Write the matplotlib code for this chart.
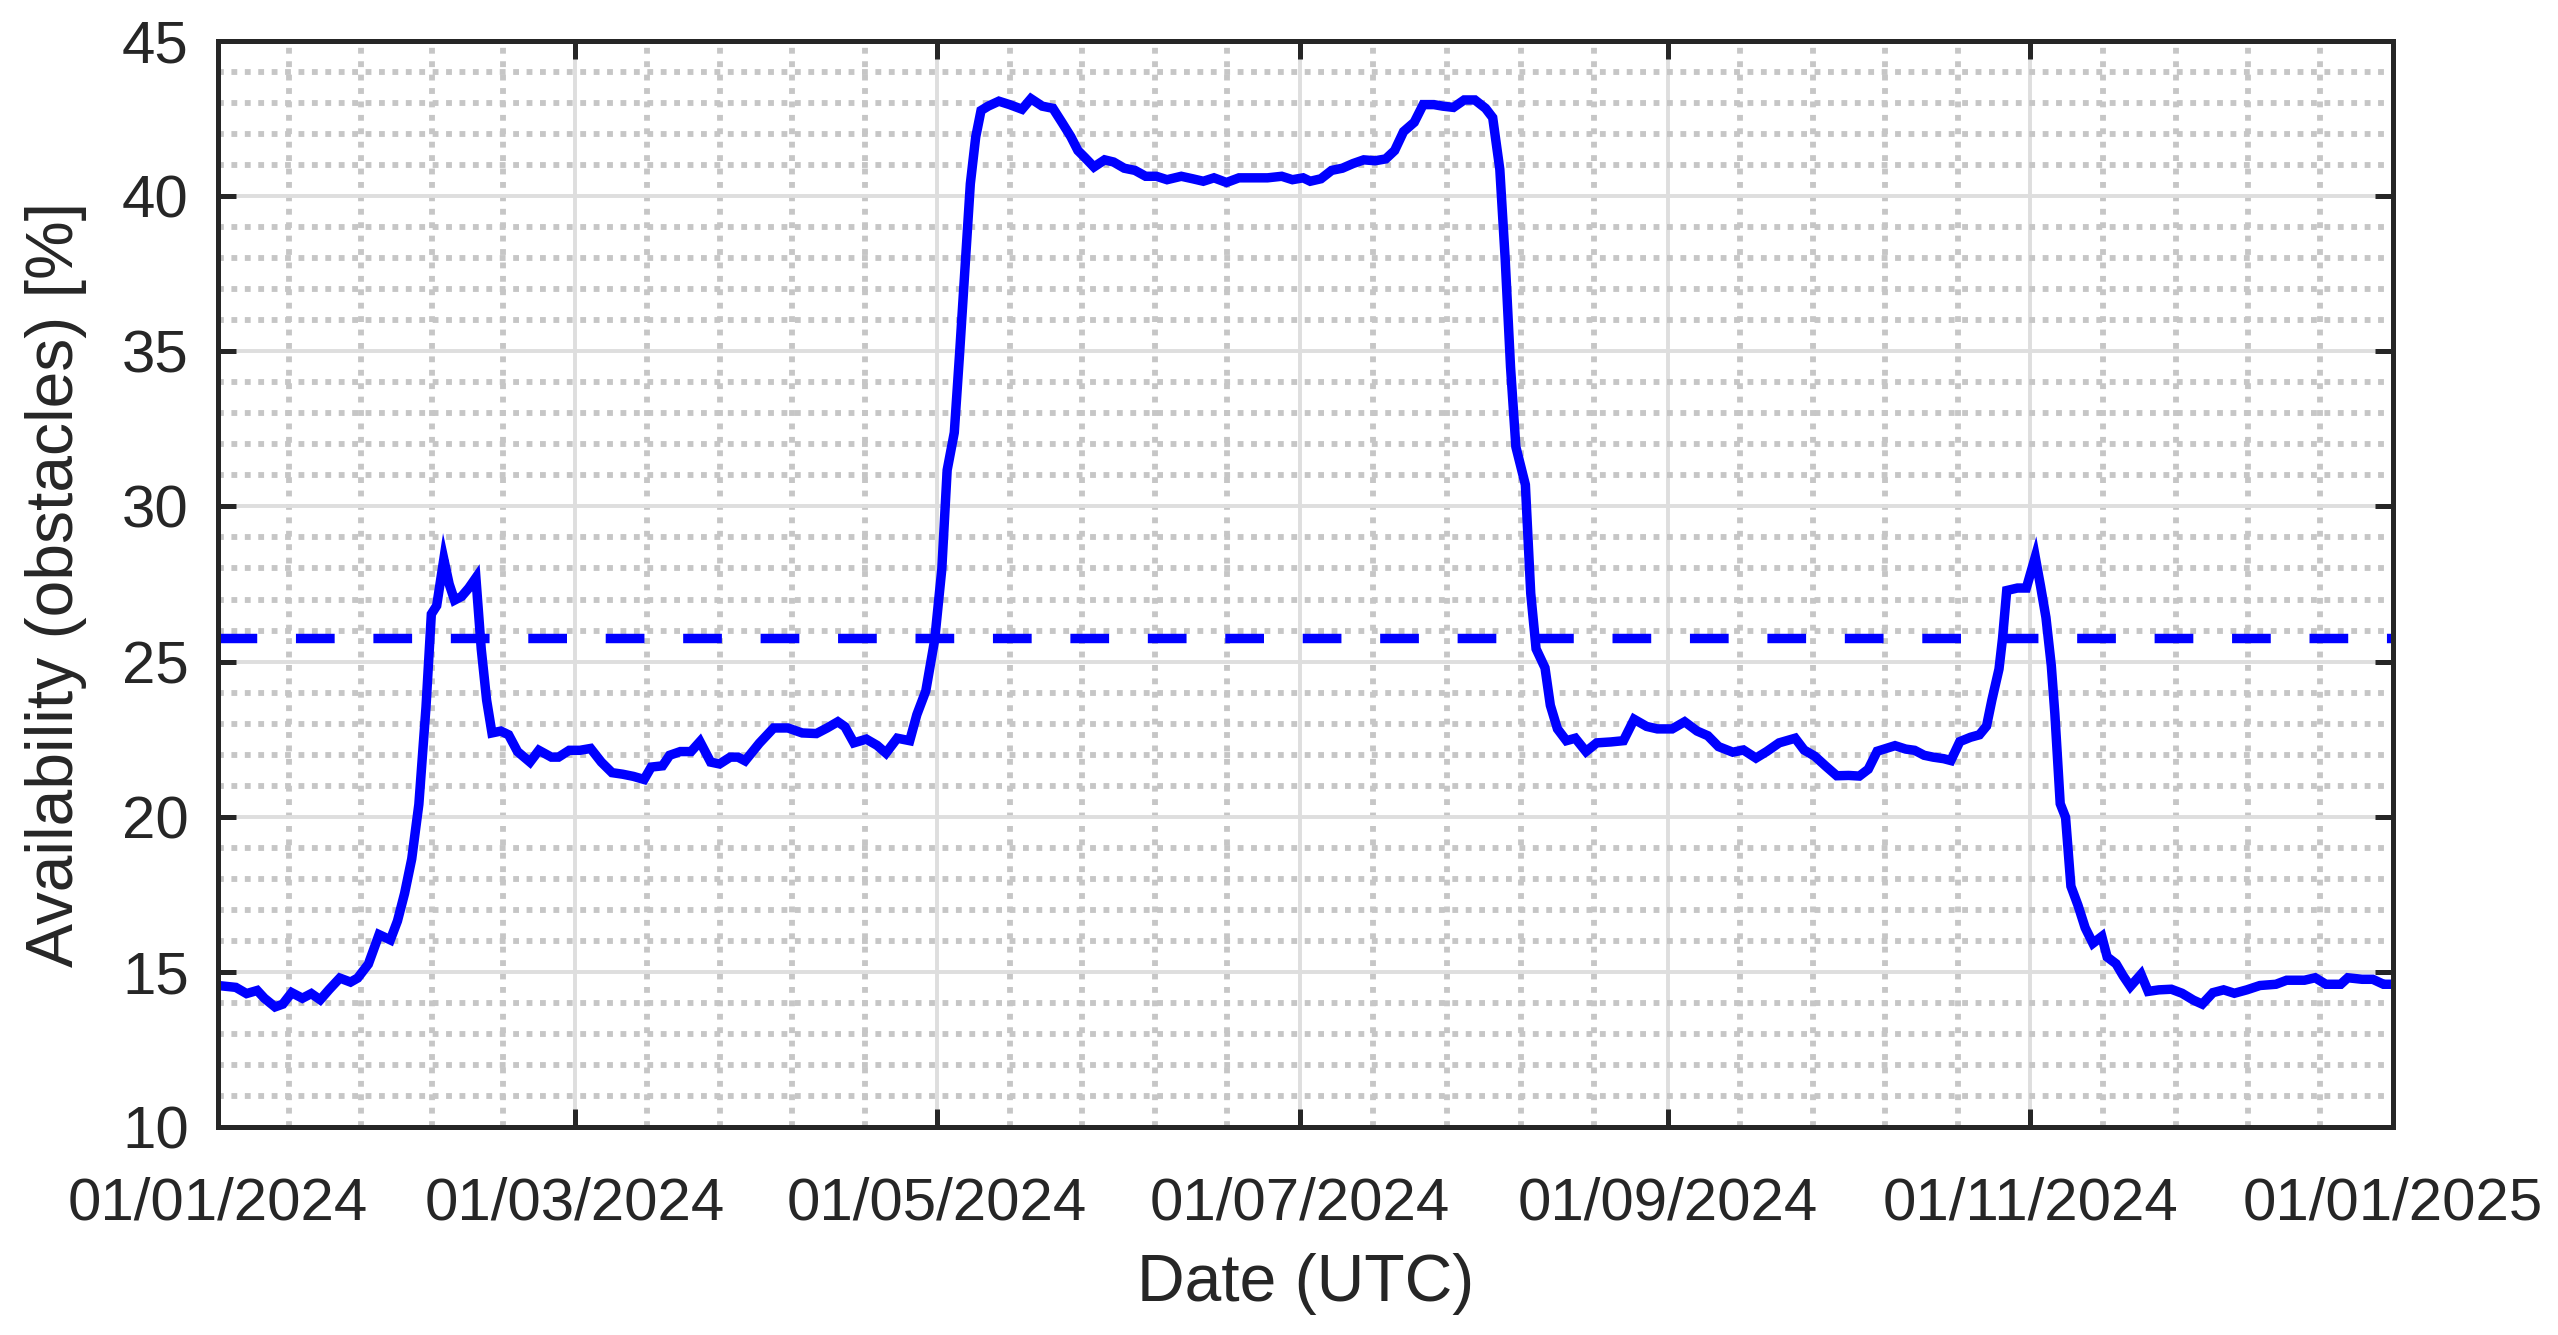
import numpy as np
import matplotlib
matplotlib.use("Agg")
import matplotlib.pyplot as plt
import matplotlib.dates as mdates
from matplotlib.ticker import FixedLocator, MultipleLocator

# ---------------- data ----------------
start_date = "2024-01-01"
day_offset = [
    0, 3, 4.8, 6.6, 7.8, 9.6, 10.9, 12.4, 14.2, 15.7, 17.2, 18.7, 20.5, 22.3, 23.5,
    25.3, 27.1, 29, 30.2, 31.4, 32.6, 33.8, 35, 35.9, 36.8, 38, 38.9, 39.8, 41, 42.2,
    43.4, 44.3, 45.2, 46.1, 47.6, 48.9, 50.4, 52.5, 54, 56.1, 57.3, 59.1, 60.9, 62.7,
    64.5, 66.3, 68.1, 69.9, 71.7, 72.9, 74.8, 76, 77.8, 79.6, 81.1, 82.9, 84.4, 86.2,
    87.5, 88.7, 91.1, 93.5, 95.9, 98.3, 100.7, 102.5, 104.3, 105.5, 107, 109.1, 110.9,
    112.4, 114.3, 116.4, 117.6, 119.1, 120.6, 121.8, 122.7, 123.9, 124.8, 125.7, 126.6,
    127.5, 128.4, 129.6, 131.4, 133.2, 135.3, 136.8, 138.7, 140.5, 142, 143.5, 144.7,
    145.9, 147.4, 149.2, 150.7, 152.5, 154.3, 156.1, 157.9, 159.7, 162.1, 164, 165.8,
    167.6, 169.7, 171.8, 174.2, 176.6, 179, 180.8, 182.6, 183.8, 185.6, 187.4, 189.2,
    191, 192.8, 194.7, 196.5, 198, 199.5, 201.3, 202.8, 204.6, 206.1, 207.9, 209.7,
    211.5, 213.3, 214.5, 215.7, 216.6, 217.5, 218.4, 220, 220.9, 221.8, 223.3, 224.2,
    225.4, 226.9, 228.4, 230.2, 232, 234.4, 236.5, 238.3, 240.4, 242.2, 244.7, 246.8,
    248.9, 250.7, 252.5, 254.9, 256.7, 258.8, 260.6, 262.7, 265.4, 266.9, 268.7, 270.6,
    272.4, 274.4, 276.2, 277.7, 279.2, 281, 282.2, 284, 285.5, 287.1, 288.6, 290.4,
    291.6, 293.1, 294.9, 296.4, 297.6, 298.5, 299.7, 300.3, 301, 302.8, 304.3, 305.8,
    306.7, 307.6, 308.5, 309.1, 310, 310.9, 311.8, 313, 314.2, 315.5, 317, 317.9, 319.4,
    320.6, 321.8, 323.6, 324.8, 326.6, 328.7, 330.5, 332.4, 333.9, 335.7, 337.5, 339.3,
    341.4, 343.6, 346.3, 348.1, 351.1, 352.9, 354.7, 357.2, 358.4, 360.8, 362.6, 364.4,
    365,
]
availability = [
    14.56, 14.5, 14.3, 14.4, 14.15, 13.87, 13.96, 14.33, 14.15, 14.3, 14.1, 14.43, 14.8,
    14.67, 14.8, 15.25, 16.2, 16.03, 16.64, 17.53, 18.64, 20.4, 23.53, 26.53, 26.8, 28.3,
    27.5, 26.98, 27.1, 27.37, 27.7, 25.4, 23.76, 22.7, 22.76, 22.64, 22.1, 21.76, 22.14,
    21.92, 21.92, 22.14, 22.14, 22.2, 21.76, 21.42, 21.37, 21.3, 21.2, 21.6, 21.64, 21.98,
    22.1, 22.1, 22.42, 21.76, 21.7, 21.92, 21.92, 21.8, 22.37, 22.86, 22.86, 22.7, 22.68,
    22.86, 23.06, 22.9, 22.38, 22.5, 22.3, 22.05, 22.53, 22.45, 23.29, 24.05, 25.7, 27.98,
    31.17, 32.38, 34.95, 37.68, 40.4, 41.9, 42.76, 42.9, 43.06, 42.95, 42.8, 43.14, 42.9,
    42.83, 42.38, 41.92, 41.47, 41.24, 40.94, 41.17, 41.1, 40.9, 40.83, 40.64, 40.64,
    40.53, 40.64, 40.56, 40.48, 40.59, 40.44, 40.59, 40.59, 40.59, 40.64, 40.53, 40.59,
    40.48, 40.56, 40.83, 40.9, 41.05, 41.17, 41.14, 41.2, 41.47, 42.08, 42.38, 42.95,
    42.95, 42.9, 42.86, 43.1, 43.1, 42.83, 42.53, 40.86, 37.98, 34.5, 31.92, 30.7, 27.2,
    25.41, 24.8, 23.59, 22.83, 22.45, 22.53, 22.1, 22.38, 22.41, 22.45, 23.14, 22.91,
    22.83, 22.83, 23.06, 22.76, 22.61, 22.26, 22.08, 22.15, 21.89, 22.1, 22.38, 22.53,
    22.15, 21.95, 21.62, 21.32, 21.33, 21.31, 21.53, 22.11, 22.22, 22.29, 22.18, 22.14,
    21.98, 21.92, 21.87, 21.81, 22.42, 22.56, 22.64, 22.92, 23.76, 24.76, 25.76, 27.29,
    27.37, 27.37, 28.37, 27.42, 26.42, 24.87, 23.31, 20.42, 19.98, 17.76, 17.14, 16.42,
    15.92, 16.14, 15.48, 15.26, 14.87, 14.53, 14.92, 14.37, 14.42, 14.44, 14.31, 14.09,
    13.96, 14.33, 14.42, 14.31, 14.42, 14.56, 14.6, 14.73, 14.73, 14.81, 14.6, 14.6,
    14.81, 14.76, 14.76, 14.6, 14.6,
]
mean_availability = 25.76

x_tick_dates = ["2024-01-01", "2024-03-01", "2024-05-01", "2024-07-01",
                "2024-09-01", "2024-11-01", "2025-01-01"]
x_tick_labels = ["01/01/2024", "01/03/2024", "01/05/2024", "01/07/2024",
                 "01/09/2024", "01/11/2024", "01/01/2025"]
y_ticks = [10, 15, 20, 25, 30, 35, 40, 45]
x_label = "Date (UTC)"
y_label = "Availability (obstacles) [%]"

# ---------------- style ----------------
plt.rcParams["font.family"] = ["Liberation Sans", "DejaVu Sans"]
text_color = "#262626"

fig = plt.figure(figsize=(25.58, 13.35), dpi=100)
ax = fig.add_axes([218 / 2558, 1 - 1127 / 1335, (2393 - 218) / 2558, (1127 - 41) / 1335])

base = np.datetime64(start_date, "s")
times = base + (np.array(day_offset) * 86400).astype("timedelta64[s]")
dates = mdates.date2num(times.astype("datetime64[ms]").astype(object))

ax.plot(dates, availability, color="#0000ff", lw=6.8, solid_joinstyle="miter",
        zorder=3)
ax.axhline(mean_availability, color="#0000ff", lw=6.8, linestyle=(0, (4.1, 4.1)),
           dash_capstyle="butt", zorder=3)

tick_nums = [mdates.date2num(np.datetime64(d).astype("datetime64[ms]").astype(object))
             for d in x_tick_dates]
ax.set_xlim(tick_nums[0], tick_nums[-1])
ax.set_ylim(y_ticks[0], y_ticks[-1])

ax.xaxis.set_major_locator(FixedLocator(tick_nums))
ax.set_xticklabels(x_tick_labels)
minor = []
for a, b in zip(tick_nums[:-1], tick_nums[1:]):
    minor.extend(np.linspace(a, b, 6)[1:-1])
ax.xaxis.set_minor_locator(FixedLocator(minor))
ax.set_yticks(y_ticks)
ax.yaxis.set_minor_locator(MultipleLocator(1))

ax.grid(which="major", color="#dedede", lw=2.8, linestyle="-", zorder=1)
ax.grid(which="minor", color="#c6c6c6", lw=4.2, linestyle=(0, (1.0, 1.3)), zorder=1)
ax.set_axisbelow(True)

ax.tick_params(which="major", direction="in", length=13, width=3.6,
               top=True, right=True, labelsize=43.2, colors=text_color)
ax.tick_params(which="minor", length=0, top=True, right=True)
ax.tick_params(axis="x", pad=36)
ax.tick_params(axis="y", pad=21)
for sp in ax.spines.values():
    sp.set_linewidth(3.6)
    sp.set_color(text_color)
    sp.set_zorder(4)

ax.set_xlabel(x_label, fontsize=47.5, color=text_color, labelpad=15)
ax.set_ylabel(y_label, fontsize=47.5, color=text_color, labelpad=25)

fig.savefig("out.png", dpi=100)
